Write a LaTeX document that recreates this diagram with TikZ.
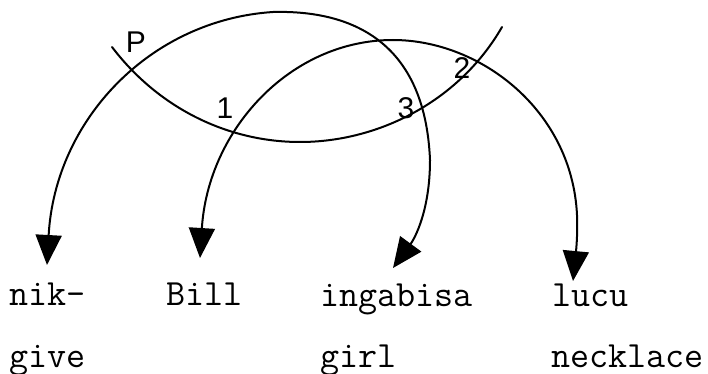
\documentclass[tikz,border=0pt]{standalone}
\usepackage{fontspec}
\newfontfamily\hand{Liberation Sans}
\usetikzlibrary{arrows.meta}
\begin{document}
\begin{tikzpicture}[x=1pt,y=-1pt,
  word/.style={anchor=base west,inner sep=0pt,font=\ttfamily\fontsize{37}{37}\selectfont},
  lbl/.style={inner sep=0pt,font=\hand\fontsize{30}{30}\selectfont},
  arc/.style={line width=2pt,line cap=round},
  tipped/.style={{Triangle[length=30pt,width=26pt]}-{Triangle[length=30pt,width=26pt]}}]
\useasboundingbox (0,0) rectangle (708,374);
% words
\node[word] (nik) at (9,305) {nik-};
\node[word] (bill) at (166,305) {Bill};
\node[word] (inga) at (320,306) {ingabisa};
\node[word] (lucu) at (552,306) {lucu};
\node[word] (give) at (9,367) {give};
\node[word] (girl) at (320,367) {girl};
\node[word] (neck) at (551,367) {necklace};
% arrow tips and arc ends
\coordinate (tnik) at (47,265);
\coordinate (tbill) at (200,258);
\coordinate (tinga) at (393,268);
\coordinate (tlucu) at (573,281);
\coordinate (pa) at (112,47);
\coordinate (pb) at (502,27);
% arc nik- -- ingabisa
\draw[arc,tipped]
  (tnik) .. controls (55,120) and (150,20) .. (273,12)
  .. controls (350,10) and (425,40) .. (430,160)
  .. controls (430,210) and (415,238) .. (tinga);
% arc Bill -- lucu
\draw[arc,tipped]
  (tbill) .. controls (208,130) and (290,40) .. (393,40)
  .. controls (480,40) and (572,110) .. (577,215)
  .. controls (578,240) and (575,260) .. (tlucu);
% bottom arc
\draw[arc] (pa) .. controls (160,110) and (230,142) .. (300,142)
  .. controls (380,142) and (460,100) .. (pb);
% labels
\node[lbl] (lp) at (136,42) {P};
\node[lbl] (l1) at (225,108) {1};
\node[lbl] (l3) at (406,108) {3};
\node[lbl] (l2) at (462,68) {2};
\end{tikzpicture}
\end{document}
